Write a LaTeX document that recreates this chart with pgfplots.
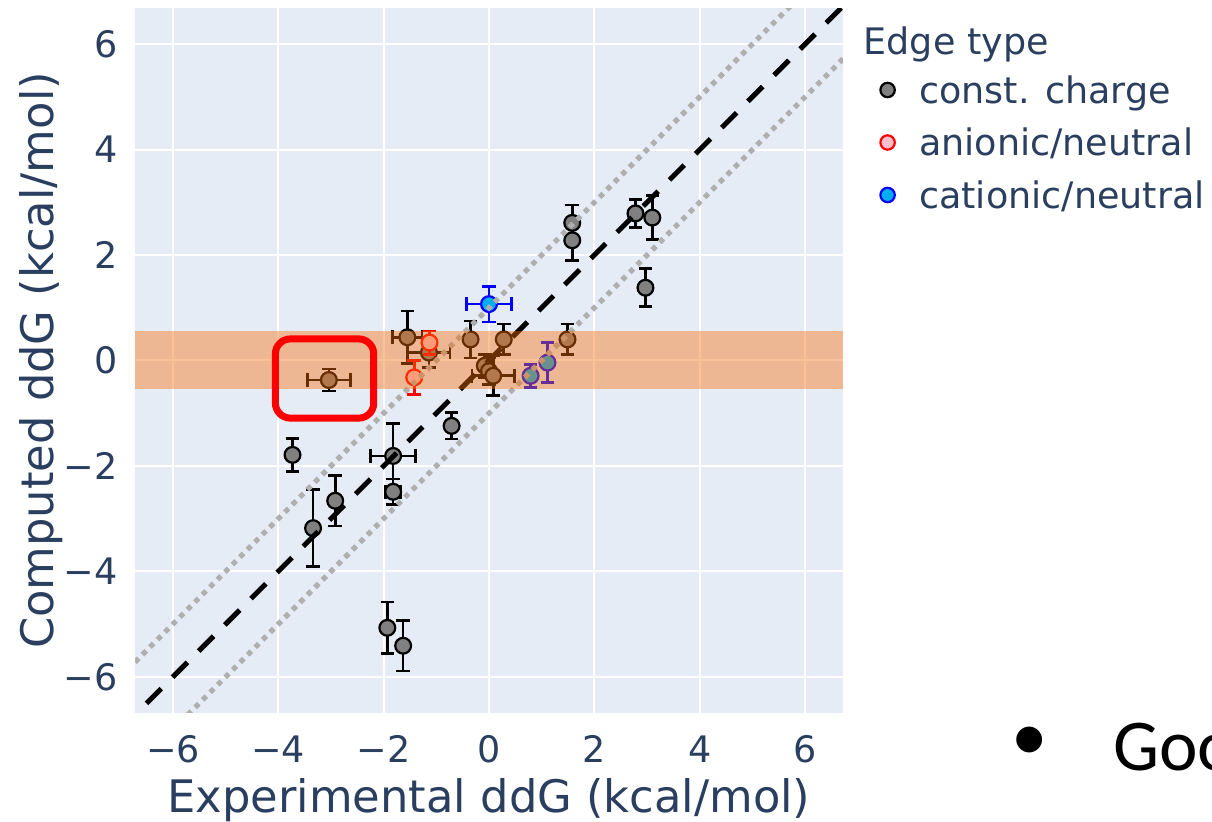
\documentclass[border=0pt]{standalone}
\usepackage{fontspec}
\setmainfont{DejaVu Sans}
\newfontfamily\slidefont{Carlito}
\usepackage{pgfplots}
\pgfplotsset{compat=1.18}
\usepackage{pgfplotstable}
\definecolor{plotbg}{HTML}{E5ECF6}
\definecolor{plottext}{HTML}{2A3F5F}
\definecolor{bandorange}{RGB}{246,110,10}
\definecolor{markgray}{RGB}{128,128,128}
\definecolor{dotgray}{RGB}{175,175,175}
\definecolor{anfill}{RGB}{255,192,203}

% const. charge, y errors only
\pgfplotstableread{
x y ey
1.58 2.61 0.34
1.58 2.28 0.38
2.78 2.79 0.27
3.10 2.71 0.42
2.97 1.38 0.36
-0.35 0.40 0.35
0.28 0.40 0.29
1.49 0.40 0.29
-0.08 -0.10 0.22
0.00 -0.20 0.25
-0.71 -1.24 0.25
-3.73 -1.79 0.31
-2.92 -2.66 0.48
-3.34 -3.18 0.73
-1.93 -5.07 0.49
-1.63 -5.41 0.48
}\constY
% const. charge, x and y errors
\pgfplotstableread{
x y ex ey
-1.55 0.44 0.28 0.50
-1.14 0.15 0.40 0.28
0.08 -0.29 0.40 0.38
-3.04 -0.37 0.41 0.21
-1.82 -1.81 0.43 0.62
-1.82 -2.49 0.14 0.24
}\constXY
% anionic/neutral
\pgfplotstableread{
x y ey
-1.13 0.34 0.22
-1.42 -0.32 0.32
}\anY
% cationic/neutral
\pgfplotstableread{
x y ex ey
0.00 1.07 0.43 0.34
}\catXY
\pgfplotstableread{
x y ey
0.79 -0.29 0.22
1.11 -0.04 0.38
}\catY

\begin{document}
\begin{tikzpicture}
\useasboundingbox (0,0) rectangle (606pt,410.5pt);
\begin{axis}[
  at={(67.5pt,54.15pt)}, anchor=south west,
  scale only axis, width=354pt, height=352.2pt,
  xmin=-6.72, xmax=6.72, ymin=-6.68, ymax=6.68,
  clip mode=individual,
  axis background/.style={fill=plotbg},
  axis line style={draw=none},
  major tick length=0pt,
  grid=major, grid style={white, line width=1pt},
  xtick={-6,-4,-2,0,2,4,6}, xticklabels={−6,−4,−2,0,2,4,6},
  ytick={-6,-4,-2,0,2,4,6}, yticklabels={−6,−4,−2,0,2,4,6},
  tick label style={font=\fontsize{18.25}{22}\selectfont, text=plottext, inner sep=0pt},
  xticklabel style={anchor=base, yshift=-25pt},
  yticklabel style={anchor=east, xshift=-8.5pt},
  every axis x label/.style={at={(axis description cs:0.5,-0.141)}, anchor=base},
  every axis y label/.style={at={(axis description cs:-0.1158,0.5)}, rotate=90, anchor=base},
  label style={font=\fontsize{22.4}{27}\selectfont, text=plottext, inner sep=0pt},
  xlabel={Experimental ddG (kcal/mol)},
  ylabel={Computed ddG (kcal/mol)},
  legend image code/.code={\draw[#1, mark size=3.6pt] plot coordinates {(0pt,6.65pt)};},
  legend style={at={(axis description cs:1.0528,0.9063)}, anchor=north west,
    draw=none, fill=none, inner sep=0pt, outer sep=0pt,
    font=\fontsize{18.25}{22}\selectfont, text=plottext,
    row sep=7.25pt, column sep=12.2pt,
    nodes={text height=14.5pt, text depth=4.5pt, inner sep=0pt},
    cells={anchor=base west}},
  error bars/error bar style={line width=1.35pt},
  error bars/error mark options={line width=1.35pt, mark size=3.4pt, rotate=90},
]
% legend entries
\addlegendimage{only marks, mark=*, color=black, mark options={fill=markgray, line width=1.1pt}}
\addlegendentry{const. charge}
\addlegendimage{only marks, mark=*, color=red, mark options={fill=anfill, line width=1.1pt}}
\addlegendentry{anionic/neutral}
\addlegendimage{only marks, mark=*, color=blue, mark options={fill=cyan, line width=1.1pt}}
\addlegendentry{cationic/neutral}

% data
\addplot[forget plot, only marks, mark=*, color=black, mark size=3.95pt,
  mark options={fill=markgray, line width=1.1pt},
  error bars/.cd, y dir=both, y explicit]
  table[x=x, y=y, y error=ey] {\constY};
\addplot[forget plot, only marks, mark=*, color=black, mark size=3.95pt,
  mark options={fill=markgray, line width=1.1pt},
  error bars/.cd, y dir=both, y explicit, x dir=both, x explicit]
  table[x=x, y=y, x error=ex, y error=ey] {\constXY};
\addplot[forget plot, only marks, mark=*, color=red, mark size=3.95pt,
  mark options={fill=anfill, line width=1.1pt},
  error bars/.cd, y dir=both, y explicit]
  table[x=x, y=y, y error=ey] {\anY};
\addplot[forget plot, only marks, mark=*, color=blue, mark size=3.95pt,
  mark options={fill=cyan, line width=1.1pt},
  error bars/.cd, y dir=both, y explicit, x dir=both, x explicit]
  table[x=x, y=y, x error=ex, y error=ey] {\catXY};
\addplot[forget plot, only marks, mark=*, color=blue, mark size=3.95pt,
  mark options={fill=cyan, line width=1.1pt},
  error bars/.cd, y dir=both, y explicit]
  table[x=x, y=y, y error=ey] {\catY};

% reference lines
\addplot[forget plot, dotgray, line width=2.6pt, dash pattern=on 2.6pt off 2.7pt] coordinates {(-8,-7) (7,8)};
\addplot[forget plot, dotgray, line width=2.6pt, dash pattern=on 2.6pt off 2.7pt] coordinates {(-7,-8) (8,7)};
\addplot[forget plot, black, line width=2.5pt, dash pattern=on 10.5pt off 8pt] coordinates {(-7,-7) (7,7)};

% band
\addplot[forget plot, draw=none, fill=bandorange, fill opacity=0.42]
  coordinates {(-6.72,-0.55) (6.72,-0.55) (6.72,0.55) (-6.72,0.55)} -- cycle;

% highlight box
\draw[red, line width=3.5pt, rounded corners=7.5pt] (axis cs:-4.055,-1.093) rectangle (axis cs:-2.188,0.409);
\end{axis}
\node[anchor=base west, inner sep=0pt, text=plottext, font=\fontsize{18.25}{22}\selectfont] at (431.65pt,383pt) {Edge type};
\node[anchor=center, inner sep=0pt, font=\slidefont\fontsize{36.5}{40}\selectfont] at (514.8pt,38.5pt) {•};
\node[anchor=base west, inner sep=0pt, font=\slidefont\fontsize{36.5}{40}\selectfont] at (556.5pt,25.15pt) {Good};
\end{tikzpicture}
\end{document}
